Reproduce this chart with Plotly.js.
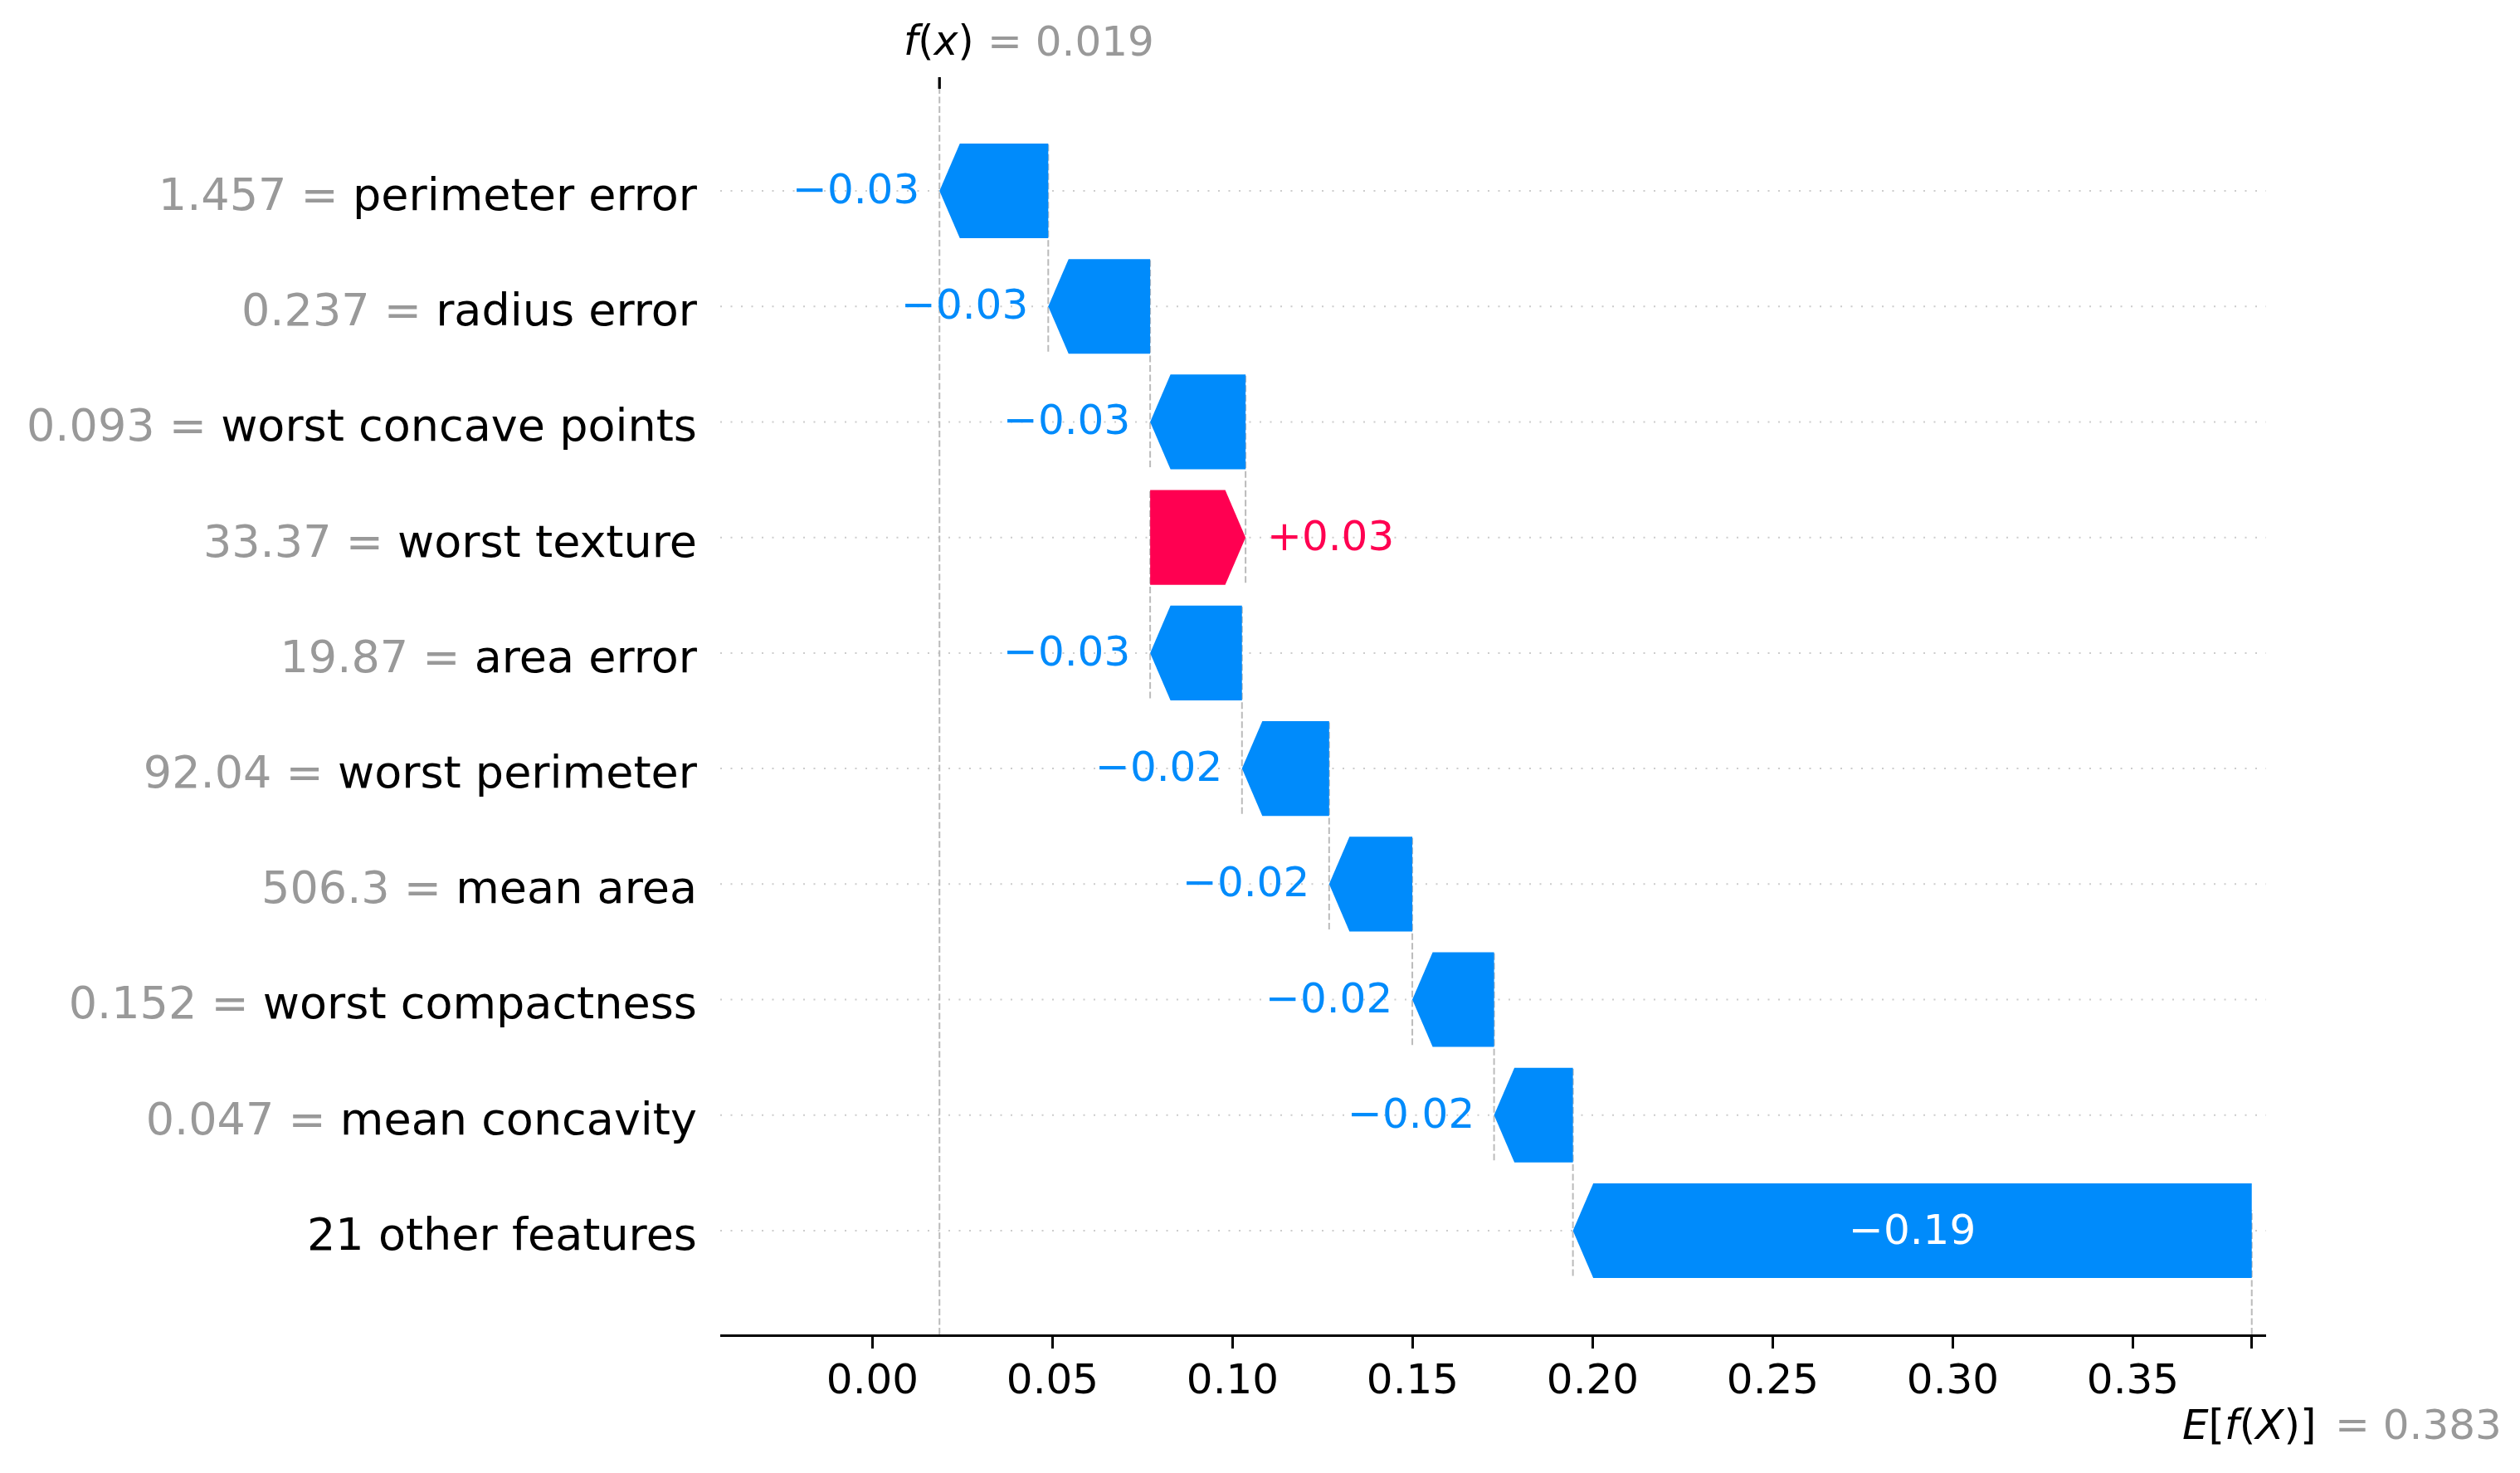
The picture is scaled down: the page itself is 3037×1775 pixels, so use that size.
<!DOCTYPE html>
<html>
<head>
<meta charset="utf-8">
<script src="https://cdn.plot.ly/plotly-3.0.1.min.js"></script>
<style>html,body{margin:0;padding:0;background:#fff;}</style>
</head>
<body>
<div id="chart" style="width:3037px;height:1775px;"></div>
<script>
// ---- data (rows from top to bottom) ----
const featureNames = ["perimeter error", "radius error", "worst concave points", "worst texture", "area error",
  "worst perimeter", "mean area", "worst compactness", "mean concavity", "21 other features"];
const featureValues = ["1.457", "0.237", "0.093", "33.37", "19.87", "92.04", "506.3", "0.152", "0.047", ""];
const shapValues = [-0.0302, -0.0283, -0.0265, 0.0265, -0.0255, -0.0242, -0.0231, -0.0227, -0.0219, -0.1885];
const valueLabels = ["\u22120.03", "\u22120.03", "\u22120.03", "+0.03", "\u22120.03", "\u22120.02", "\u22120.02", "\u22120.02", "\u22120.02", "\u22120.19"];
const baseValue = 0.383;
const baseLabel = "0.383";
const fxLabel = "0.019";
const xTickVals = [0.00, 0.05, 0.10, 0.15, 0.20, 0.25, 0.30, 0.35];
const xTickText = ["0.00", "0.05", "0.10", "0.15", "0.20", "0.25", "0.30", "0.35"];

// ---- styles ----
const BLUE = "#008bfb", RED = "#ff0051", GRAY = "#999999";
const FONT = "DejaVu Sans";
const halfH = 0.41;       // half bar height in row units
const headLen = 0.00565;  // arrow head length in x units

const n = featureNames.length;
// start (base side) and end (tip) of every bar
const starts = new Array(n), ends = new Array(n);
let loc = baseValue;
for (let i = n - 1; i >= 0; i--) {
  starts[i] = loc;
  ends[i] = loc + shapValues[i];
  loc = ends[i];
}
const fx = loc;

const traces = [];
for (let i = 0; i < n; i++) {
  const s = starts[i], e = ends[i], y = i;
  const dir = e >= s ? 1 : -1;
  const hl = Math.min(headLen, Math.abs(e - s));
  const hb = e - dir * hl;
  traces.push({
    type: "scatter", mode: "lines", fill: "toself",
    x: [s, s, hb, e, hb, s],
    y: [y - halfH, y + halfH, y + halfH, y, y - halfH, y - halfH],
    line: {width: 0, color: shapValues[i] >= 0 ? RED : BLUE},
    fillcolor: shapValues[i] >= 0 ? RED : BLUE,
    hoverinfo: "skip", showlegend: false
  });
}

const shapes = [];
// dotted row guides
for (let i = 0; i < n; i++) {
  shapes.push({type: "line", xref: "paper", yref: "y", x0: 0, x1: 1, y0: i, y1: i,
    line: {color: "#cccccc", width: 2, dash: "2px,10.5px"}, layer: "below"});
}
// dashed connectors
for (let i = 0; i < n - 1; i++) {
  shapes.push({type: "line", xref: "x", yref: "y", x0: starts[i], x1: starts[i], y0: i - 0.4, y1: i + 1 + 0.4,
    line: {color: "#bbbbbb", width: 2, dash: "8px,3.5px"}, layer: "below"});
}
// f(x) full-height line and E[f(X)] short line
shapes.push({type: "line", xref: "x", yref: "paper", x0: fx, x1: fx, y0: 0, y1: 1,
  line: {color: "#bbbbbb", width: 2, dash: "8px,3.5px"}, layer: "below"});
shapes.push({type: "line", xref: "x", yref: "paper", x0: baseValue, x1: baseValue, y0: 0, y1: 1 / n,
  line: {color: "#bbbbbb", width: 2, dash: "8px,3.5px"}, layer: "below"});
// top tick for f(x)
shapes.push({type: "line", xref: "x", yref: "paper", x0: fx, x1: fx, y0: 1, y1: 1 + 14 / 1501,
  line: {color: "#000000", width: 3.3}});

const annotations = [];
for (let i = 0; i < n; i++) {
  const s = starts[i], e = ends[i];
  const pos = shapValues[i] >= 0;
  const width = Math.abs(e - s);
  if (width > 0.1) {
    annotations.push({x: (s + e) / 2, y: i, xref: "x", yref: "y", text: valueLabels[i], showarrow: false,
      xanchor: "center", yanchor: "middle", yshift: 1, font: {family: FONT, size: 50, color: "#ffffff"}});
  } else {
    annotations.push({x: e, y: i, xref: "x", yref: "y", text: valueLabels[i], showarrow: false,
      xanchor: pos ? "left" : "right", xshift: pos ? 24 : -22, yanchor: "middle", yshift: 2,
      font: {family: FONT, size: 50, color: pos ? RED : BLUE}});
  }
}
annotations.push({x: fx, y: 1.038, xref: "x", yref: "paper", text: "<i>f</i>(<i>x</i>)", showarrow: false,
  xanchor: "right", xshift: 44, yanchor: "middle", font: {family: FONT, size: 49, color: "#000000"}});
annotations.push({x: fx, y: 1.038, xref: "x", yref: "paper", text: "= " + fxLabel, showarrow: false,
  xanchor: "left", xshift: 56, yanchor: "middle", font: {family: FONT, size: 50, color: GRAY}});
annotations.push({x: baseValue, y: -0.0726, xref: "x", yref: "paper", text: "<i>E</i>[<i>f</i>(<i>X</i>)]", showarrow: false,
  xanchor: "right", xshift: 80, yanchor: "middle", font: {family: FONT, size: 50, color: "#000000"}});
annotations.push({x: baseValue, y: -0.0726, xref: "x", yref: "paper", text: "= " + baseLabel, showarrow: false,
  xanchor: "left", xshift: 98, yanchor: "middle", font: {family: FONT, size: 50, color: GRAY}});

const yTickText = featureNames.map((name, i) =>
  featureValues[i] ? "<span style='color:" + GRAY + "'>" + featureValues[i] + " = </span>" + name : name);

const layout = {
  width: 3037, height: 1775, autosize: false,
  margin: {l: 868, r: 306, t: 107, b: 167, pad: 0},
  paper_bgcolor: "#ffffff", plot_bgcolor: "#ffffff",
  font: {family: FONT, color: "#000000"},
  showlegend: false,
  xaxis: {
    range: [-0.04228, 0.38698],
    tickvals: xTickVals.concat([baseValue]), ticktext: xTickText.concat([""]),
    ticks: "outside", ticklen: 14, tickwidth: 3.3, tickcolor: "#000000",
    showline: true, linecolor: "#000000", linewidth: 3.3,
    showgrid: false, zeroline: false,
    ticklabelstandoff: -6,
    tickfont: {family: FONT, size: 50, color: "#000000"}
  },
  yaxis: {
    range: [9.898, -0.8835],
    tickvals: featureNames.map((_, i) => i), ticktext: yTickText,
    ticks: "", showline: false, showgrid: false, zeroline: false,
    ticklabelstandoff: 27,
    ticklabelshift: -4,
    tickfont: {family: FONT, size: 54, color: "#000000"}
  },
  shapes: shapes,
  annotations: annotations
};

Plotly.newPlot("chart", traces, layout, {staticPlot: true, displayModeBar: false});
</script>
</body>
</html>
